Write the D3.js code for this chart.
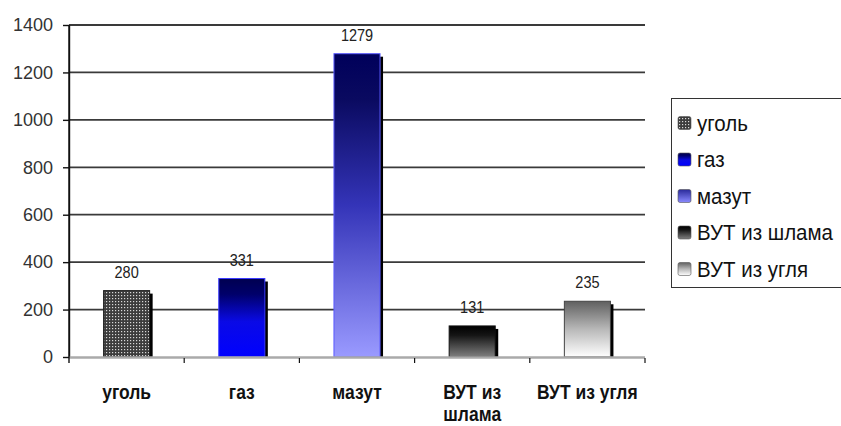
<!DOCTYPE html>
<html>
<head>
<meta charset="utf-8">
<script src="https://cdn.jsdelivr.net/npm/d3@7"></script>
<style>
  html, body { margin: 0; padding: 0; background: #fff; }
  svg { display: block; font-family: Arial, "Liberation Sans", sans-serif; }
</style>
</head>
<body>
<svg id="chart" width="841" height="426"></svg>
<script>
// Fuel categories and their values
const categories = ["уголь", "газ", "мазут", "ВУТ из шлама", "ВУТ из угля"];
const values = [280, 331, 1279, 131, 235];
const yTicks = [0, 200, 400, 600, 800, 1000, 1200, 1400];

const svg = d3.select("#chart");
const defs = svg.append("defs");

const plot = { left: 69, right: 645, top: 25, bottom: 357 };

const x = d3.scaleBand().domain(categories).range([plot.left, plot.right]);
const y = d3.scaleLinear().domain([0, 1400]).range([plot.bottom, plot.top]);

// Fills: a dotted pattern for coal, vertical gradients for the rest
const pat = defs.append("pattern").attr("id", "fill0")
  .attr("width", 3).attr("height", 3).attr("patternUnits", "userSpaceOnUse");
pat.append("rect").attr("width", 3).attr("height", 3).attr("fill", "#3c3c3c");
pat.append("rect").attr("x", 1).attr("y", 1).attr("width", 1.2).attr("height", 1.2).attr("fill", "#d8d8d8");

function grad(id, stops) {
  const g = defs.append("linearGradient").attr("id", id)
    .attr("x1", 0).attr("y1", 0).attr("x2", 0).attr("y2", 1);
  stops.forEach(s => g.append("stop").attr("offset", s[0]).attr("stop-color", s[1]));
}
grad("fill1", [[0, "#000050"], [0.2, "#00006a"], [0.55, "#0a0ae6"], [1, "#0000ff"]]);
grad("fill2", [[0, "#00005a"], [0.15, "#0a0a60"], [0.5, "#3434b8"], [1, "#9a9aff"]]);
grad("fill3", [[0, "#000000"], [0.3, "#151515"], [1, "#808080"]]);
grad("fill4", [[0, "#606060"], [0.5, "#b8b8b8"], [1, "#ffffff"]]);
grad("leg2", [[0, "#2a2a9a"], [1, "#8a8aff"]]);

const fills = ["url(#fill0)", "url(#fill1)", "url(#fill2)", "url(#fill3)", "url(#fill4)"];
const legendFills = ["url(#fill0)", "url(#fill1)", "url(#leg2)", "url(#fill3)", "url(#fill4)"];
const edges = ["#222", "#3a3aff", "#5a5aff", "#111", "#444"];

// Horizontal gridlines
svg.append("g").selectAll("line").data(yTicks.filter(d => d > 0)).join("line")
  .attr("x1", plot.left).attr("x2", plot.right)
  .attr("y1", d => y(d)).attr("y2", d => y(d))
  .attr("stroke", "#3a3a3a").attr("stroke-width", 1.8);

// Y axis
const yAxis = svg.append("g").attr("transform", `translate(${plot.left},0)`)
  .call(d3.axisLeft(y).tickValues(yTicks).tickFormat(d3.format("d"))
    .tickSize(6).tickPadding(10).tickSizeOuter(0));
yAxis.select(".domain").attr("stroke", "#111").attr("stroke-width", 1.4);
yAxis.selectAll(".tick line").attr("stroke", "#111").attr("stroke-width", 1.4);
yAxis.selectAll(".tick text").attr("font-size", 18).attr("fill", "#333")
  .attr("font-family", "Arial, 'Liberation Sans', sans-serif");

// Bars with a drop shadow
const barW = x.bandwidth() * 0.4;
const bars = svg.append("g").selectAll("g").data(categories).join("g");
bars.append("rect")
  .attr("x", d => x(d) + (x.bandwidth() - barW) / 2 + 3)
  .attr("y", (d, i) => y(values[i]) + 3)
  .attr("width", barW)
  .attr("height", (d, i) => y(0) - y(values[i]) - 3)
  .attr("fill", "#000");
bars.append("rect")
  .attr("x", d => x(d) + (x.bandwidth() - barW) / 2)
  .attr("y", (d, i) => y(values[i]))
  .attr("width", barW)
  .attr("height", (d, i) => y(0) - y(values[i]))
  .attr("fill", (d, i) => fills[i])
  .attr("stroke", (d, i) => edges[i]).attr("stroke-width", 1);

// X axis baseline and category ticks
svg.append("line").attr("x1", plot.left).attr("x2", plot.right)
  .attr("y1", y(0) + 0.5).attr("y2", y(0) + 0.5)
  .attr("stroke", "#aaa").attr("stroke-width", 2.5);
svg.append("line").attr("x1", plot.left).attr("x2", plot.left)
  .attr("y1", plot.top).attr("y2", y(0) + 6).attr("stroke", "#111").attr("stroke-width", 1.4);
svg.append("g").selectAll("line").data(categories).join("line")
  .attr("x1", d => x(d) + x.step())
  .attr("x2", d => x(d) + x.step())
  .attr("y1", y(0) + 1).attr("y2", y(0) + 6)
  .attr("stroke", "#111").attr("stroke-width", 1.2);

// Category labels, wrapped to the band width (slightly tall lettering)
const catGroups = svg.append("g").selectAll("g").data(categories).join("g")
  .attr("transform", d => `translate(${x(d) + x.bandwidth() / 2},399) scale(1,1.18)`);
catGroups.each(function (d) {
  const t = d3.select(this).append("text")
    .attr("text-anchor", "middle")
    .attr("font-size", 17.5).attr("font-weight", "bold").attr("fill", "#111");
  const words = d.split(" ");
  let line = [];
  let tspan = t.append("tspan").attr("x", 0).attr("dy", 0);
  words.forEach(w => {
    line.push(w);
    tspan.text(line.join(" "));
    if (tspan.node().getComputedTextLength() > x.bandwidth() - 6 && line.length > 1) {
      line.pop();
      tspan.text(line.join(" "));
      line = [w];
      tspan = t.append("tspan").attr("x", 0).attr("dy", 18.5).text(w);
    }
  });
});

// Value labels above the bars
svg.append("g").selectAll("text").data(categories).join("text")
  .attr("transform", (d, i) => `translate(${x(d) + x.bandwidth() / 2},${y(values[i]) - 13}) scale(1,1.15)`)
  .attr("text-anchor", "middle")
  .attr("font-size", 14.5).attr("fill", "#222")
  .text((d, i) => values[i]);

// Legend
const legend = svg.append("g");
legend.append("rect").attr("x", 671.5).attr("y", 98.5).attr("width", 200).attr("height", 189)
  .attr("fill", "#fff").attr("stroke", "#333").attr("stroke-width", 1);
const ly = d3.scalePoint().domain(categories).range([123, 269]);
const items = legend.selectAll("g").data(categories).join("g")
  .attr("transform", d => `translate(0,${ly(d)})`);
items.append("rect").attr("x", 678).attr("y", -6.5).attr("width", 13).attr("height", 13)
  .attr("rx", 2).attr("fill", (d, i) => legendFills[i]).attr("stroke", "#555").attr("stroke-width", 0.6);
items.append("text").attr("transform", "translate(697,7.5) scale(1,1.12)")
  .attr("font-size", 20.5).attr("fill", "#111")
  .text(d => d);
</script>
</body>
</html>
